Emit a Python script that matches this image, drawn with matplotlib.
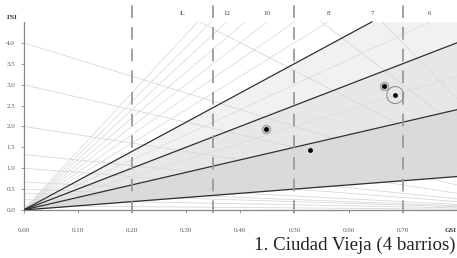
import numpy as np
import matplotlib
matplotlib.use("Agg")
import matplotlib.pyplot as plt

# ---- data ----
dark_L = [1, 3, 5, 7]                      # floors (FSI/GSI) - emphasised lines
light_L = [2, 4, 6, 8, 9, 10, 11, 12, 13, 14]   # thin floor lines
osi_intercepts = [13.3, 10, 6.67, 4, 3, 2, 1.33, 1.0, 0.67, 0.5, 0.4, 0.25, 0.1]  # 1/OSI
band_colors = ["#dadada", "#e7e7e7", "#f1f1f1"]   # L 1-3, 3-5, 5-7
dashed_gsi = [0.20, 0.35, 0.50, 0.70]
top_labels = ["L", "12", "10", "8", "7", "6"]
top_label_L = [15.4, 12, 10, 8, 7, 6]
gsi_ticks = [0.0, 0.1, 0.2, 0.3, 0.4, 0.5, 0.6, 0.7]
gsi_ticklabels = ["0.00", "0.10", "0.20", "0.30", "0.40", "0.50", "0.60", "0.70"]
fsi_ticks = [0.0, 0.5, 1.0, 1.5, 2.0, 2.5, 3.0, 3.5, 4.0]
fsi_ticklabels = ["0.0", "0.5", "1.0", "1.5", "2.0", "2.5", "3.0", "3.5", "4.0"]
pt_gsi = [0.448, 0.528, 0.666, 0.686]
pt_fsi = [1.94, 1.44, 2.97, 2.75]
pt_ring = [True, False, True, False]
pt_bigcircle = [False, False, False, True]
title = "1. Ciudad Vieja (4 barrios)"

FMAX = 4.5
XMAX = 0.8
W, H = 457, 258
serif = ["Liberation Serif", "DejaVu Serif"]

fig = plt.figure(figsize=(W / 100, H / 100), dpi=100)
ax_left = 23.5 / W
ax_bottom = (H - 210) / H
ax = fig.add_axes([ax_left, ax_bottom, 1 - ax_left, 1 - ax_bottom])
ax.set_xlim(0, XMAX)
ax.set_ylim(0, 210 / 41.8)

xs = np.linspace(0, XMAX, 400)

# bands
for (l0, l1), c in zip(zip(dark_L[:-1], dark_L[1:]), band_colors):
    lo = np.minimum(l0 * xs, FMAX)
    hi = np.minimum(l1 * xs, FMAX)
    ax.fill_between(xs, lo, hi, color=c, lw=0, zorder=1)

# thin floor lines
for L in light_L:
    xe = min(XMAX, FMAX / L)
    ax.plot([0, xe], [0, L * xe], color="#dcdcdc", lw=0.6, zorder=2)

# OSI lines (descending)
for b in osi_intercepts:
    x0 = max(0.0, 1 - FMAX / b)
    ax.plot([x0, XMAX], [b * (1 - x0), b * (1 - XMAX)], color="#d8d8d8", lw=0.6, zorder=2)

# dark floor lines
for L in dark_L:
    xe = min(XMAX, FMAX / L)
    ax.plot([0, xe], [0, L * xe], color="#2e2e2e", lw=0.9, zorder=3)

# dashed verticals
for g in dashed_gsi:
    ax.plot([g, g], [-0.07, 210 / 41.8], color="#9a9a9a", lw=1.3,
            dashes=(7, 5), clip_on=False, zorder=4)

# points
for g, f, r, bc in zip(pt_gsi, pt_fsi, pt_ring, pt_bigcircle):
    if r:
        ax.scatter([g], [f], s=40, facecolor="#bdbdbd", edgecolor="#9a9a9a", lw=0.5, zorder=5)
    if bc:
        ax.scatter([g], [f], s=150, facecolor="none", edgecolor="#8a8a8a", lw=0.7, zorder=5)
    ax.scatter([g], [f], s=12, color="black", lw=0, zorder=6)

# spines / ticks
for s in ["top", "right"]:
    ax.spines[s].set_visible(False)
ax.spines["left"].set_bounds(0, FMAX)
ax.spines["left"].set_color("#888888")
ax.spines["bottom"].set_color("#888888")
ax.spines["left"].set_linewidth(0.9)
ax.spines["bottom"].set_linewidth(0.9)
ax.set_xticks(gsi_ticks)
ax.set_xticklabels(gsi_ticklabels, fontfamily=serif, fontsize=5, color="#555555")
ax.set_yticks(fsi_ticks)
ax.set_yticklabels(fsi_ticklabels, fontfamily=serif, fontsize=5, color="#555555")
ax.tick_params(axis="x", length=2, width=0.6, color="#888888", pad=11)
ax.tick_params(axis="y", length=2, width=0.6, color="#888888", pad=4)

ax.text(-0.02, 4.55, "FSI", fontfamily=serif, fontsize=5, fontweight="bold",
        ha="center", va="bottom", color="#333333")
fig.text(456.5 / W, 1 - 231 / H, "GSI", fontfamily=serif, fontsize=5, fontweight="bold",
         ha="right", va="center", color="#333333")

for lab, L in zip(top_labels, top_label_L):
    ax.text(FMAX / L, 4.69, lab, fontfamily=serif, fontsize=5,
            fontweight="bold" if lab == "L" else "normal",
            ha="center", va="center", color="#444444")

fig.text(456 / W, 1 - 245 / H, title, fontfamily=serif, fontsize=13.6,
         ha="right", va="center", color="#222222")

fig.savefig("out.png", dpi=100)
